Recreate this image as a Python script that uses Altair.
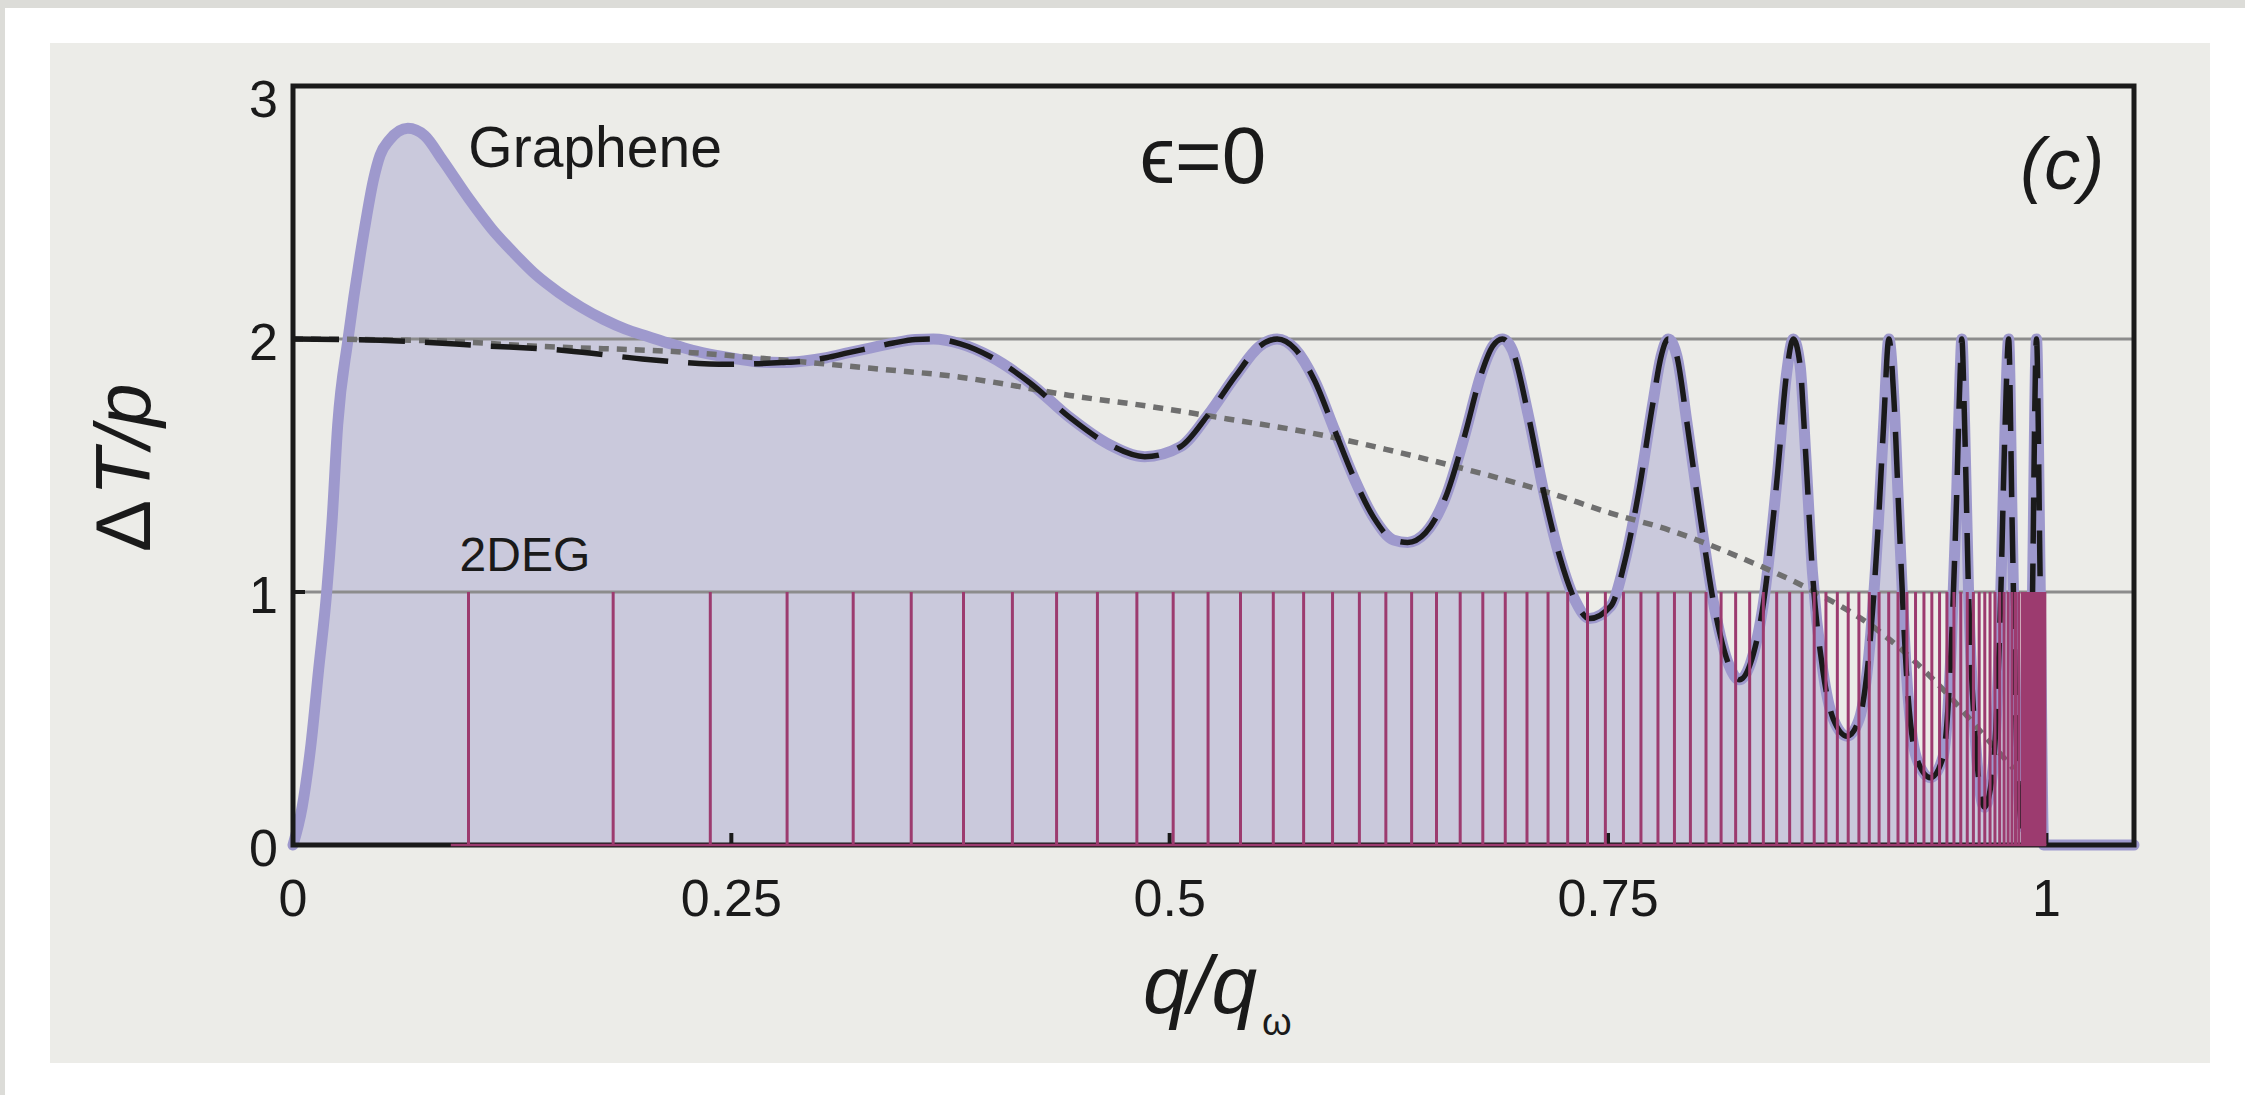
import altair as alt
import pandas as pd

# ---------------------------------------------------------------- data
# Graphene transmission ΔT/p versus q/q_ω (thick lavender curve, shaded below)
GRAPHENE = [
    (0.0, 0.0), (0.0052, 0.149), (0.0103, 0.401), (0.0146, 0.692), (0.0192, 0.998),
    (0.0222, 1.273), (0.0255, 1.661), (0.0314, 2.0), (0.0408, 2.436), (0.0459, 2.63),
    (0.0497, 2.727), (0.0548, 2.785), (0.0655, 2.833), (0.0751, 2.804), (0.0853, 2.707),
    (0.1006, 2.552), (0.1133, 2.436), (0.1261, 2.339), (0.1388, 2.252), (0.1515, 2.184),
    (0.1643, 2.126), (0.177, 2.078), (0.1897, 2.039), (0.2024, 2.01), (0.2152, 1.981),
    (0.2279, 1.955), (0.2406, 1.936), (0.2533, 1.921), (0.2661, 1.909), (0.2787, 1.907),
    (0.2915, 1.913), (0.3042, 1.926), (0.3169, 1.946), (0.3297, 1.965), (0.3424, 1.984),
    (0.3551, 1.998), (0.3653, 2.0), (0.3806, 1.981), (0.3979, 1.93), (0.4204, 1.826),
    (0.443, 1.69), (0.4655, 1.583), (0.4858, 1.535), (0.5061, 1.574), (0.5219, 1.7),
    (0.5377, 1.855), (0.5512, 1.971), (0.5613, 2.0), (0.5715, 1.961), (0.5827, 1.835),
    (0.594, 1.641), (0.6053, 1.448), (0.6165, 1.293), (0.6278, 1.205), (0.6357, 1.196),
    (0.6459, 1.234), (0.6571, 1.37), (0.6684, 1.622), (0.6774, 1.855), (0.6842, 1.971),
    (0.6898, 2.0), (0.6955, 1.955), (0.7045, 1.7), (0.7135, 1.39), (0.7225, 1.138),
    (0.7315, 0.963), (0.7394, 0.895), (0.7516, 0.944), (0.7595, 1.118), (0.7674, 1.39),
    (0.7754, 1.738), (0.7803, 1.932), (0.7843, 2.0), (0.7893, 1.932), (0.7952, 1.661),
    (0.8031, 1.273), (0.8111, 0.924), (0.819, 0.711), (0.8249, 0.653), (0.8309, 0.711),
    (0.8388, 0.963), (0.8467, 1.467), (0.8517, 1.855), (0.8557, 2.0), (0.8596, 1.893),
    (0.8626, 1.564), (0.8666, 1.079), (0.8725, 0.692), (0.8785, 0.498), (0.8864, 0.43),
    (0.8933, 0.498), (0.8993, 0.789), (0.9042, 1.273), (0.9072, 1.661), (0.9102, 2.0),
    (0.9131, 1.758), (0.9161, 1.273), (0.9201, 0.692), (0.926, 0.343), (0.9339, 0.266),
    (0.9409, 0.343), (0.9458, 0.789), (0.9488, 1.37), (0.9508, 1.855), (0.9518, 2.0),
    (0.9534, 1.661), (0.9557, 0.983), (0.9597, 0.401), (0.9647, 0.149), (0.9696, 0.304),
    (0.9736, 0.886), (0.9765, 1.661), (0.9785, 2.0), (0.9805, 1.273), (0.9835, 0.304),
    (0.9864, 0.072), (0.9914, 0.692), (0.9944, 2.0), (0.9964, 1.079), (0.9985, 0.0),
    (1.0, 0.0), (1.05, 0.0),
]

# Asymptotic result (black dashed): low-q branch, then it follows the graphene curve
ASYMPTOTIC_LOW = [
    (0.0, 2.0), (0.0497, 1.995), (0.1095, 1.973), (0.1561, 1.954),
    (0.2024, 1.919), (0.2482, 1.9),
]
ASYMPTOTIC_JOIN = 0.2787

# Envelope of the oscillation minima (grey dotted)
ENVELOPE = [
    (0.0, 2.0), (0.0751, 1.994), (0.1413, 1.971), (0.2279, 1.946), (0.2787, 1.917),
    (0.3297, 1.884), (0.3806, 1.849), (0.3979, 1.831), (0.443, 1.777), (0.4881, 1.734),
    (0.5331, 1.684), (0.5782, 1.632), (0.6233, 1.564), (0.6684, 1.486), (0.7135, 1.399),
    (0.7514, 1.312), (0.7853, 1.244), (0.8249, 1.138), (0.8645, 1.012), (0.9042, 0.847),
    (0.9438, 0.595), (0.9636, 0.44), (0.9815, 0.3),
]

# 2DEG resonance positions (unit-height peaks) and the unresolved band near q = q_ω
DEG_PEAKS = [
    0.1001, 0.1826, 0.238, 0.2818, 0.3195, 0.3526, 0.3824, 0.4103, 0.4355, 0.4588,
    0.4813, 0.502, 0.5219, 0.5404, 0.5591, 0.5764, 0.5929, 0.6082, 0.6233, 0.638,
    0.6522, 0.6657, 0.6786, 0.6914, 0.7038, 0.7158, 0.727, 0.7383, 0.7485, 0.7588,
    0.7688, 0.7785, 0.7879, 0.797, 0.8059, 0.8145, 0.8228, 0.8308, 0.8386, 0.8462,
    0.8536, 0.8607, 0.8676, 0.8743, 0.8808, 0.887, 0.8931, 0.899, 0.9046, 0.9101,
    0.9154, 0.9205, 0.9254, 0.9302, 0.9347, 0.9391, 0.9433, 0.9473, 0.9512, 0.9549,
    0.9584, 0.9617, 0.9649, 0.9679, 0.9707, 0.9734, 0.9759, 0.9782, 0.9804, 0.9824,
    0.9843,
]
DEG_BAND = (0.9855, 1.0)
DEG_BASE = (0.09, 1.0)

GRID_Y = [1, 2]
X_TICKS = [0, 0.25, 0.5, 0.75, 1]
X_INNER_TICKS = [0.25, 0.5, 0.75, 1]
Y_TICKS = [0, 1, 2]
Y_TOP_LABEL = 3
Y_INNER_TICKS = [1, 2]

TEXTS = {
    "graphene": "Graphene",
    "deg": "2DEG",
    "eps": "ϵ=0",
    "panel": "(c)",
    "ytitle_a": "Δ",
    "ytitle_b": "T/p",
    "xtitle": "q/q",
    "xsub": "ω",
}

# ---------------------------------------------------------------- style
W, H = 1841, 759
FONT = "Liberation Sans"
INK = "#1a1a1a"
PANEL = "#ecece8"
SHADE = "#cac9dc"
LAVENDER = "#9e99cd"
MAGENTA = "#9c3b6f"
DOTTED = "#6f6f6f"
GRID = "#8c8c8c"

xs = alt.Scale(domain=[0, 1.05], nice=False, zero=False)
ys = alt.Scale(domain=[0, 3], nice=False, zero=False)

graphene_df = pd.DataFrame(GRAPHENE, columns=["q", "T"])
asym_df = pd.concat(
    [pd.DataFrame(ASYMPTOTIC_LOW, columns=["q", "T"]),
     graphene_df[(graphene_df.q >= ASYMPTOTIC_JOIN) & (graphene_df.q <= 1.0)]],
    ignore_index=True,
)
env_df = pd.DataFrame(ENVELOPE, columns=["q", "T"])
peaks_df = pd.DataFrame({"q": DEG_PEAKS})
one = pd.DataFrame({"k": [0]})


def qx(field="q"):
    return alt.X(f"{field}:Q", scale=xs, axis=None)


def ty(field="T"):
    return alt.Y(f"{field}:Q", scale=ys, axis=None)


def dx(v):
    return alt.datum(v, scale=xs, axis=None)


def dy_(v):
    return alt.datum(v, scale=ys, axis=None)


# page / panel backdrop
backdrop = alt.layer(
    alt.Chart(one).mark_rect(fill=PANEL).encode(
        x=alt.value(-243), x2=alt.value(1917), y=alt.value(-43), y2=alt.value(977)),
    alt.Chart(one).mark_rect(fill="#dcdcd8").encode(
        x=alt.value(-293), x2=alt.value(1952), y=alt.value(-86), y2=alt.value(-78)),
    alt.Chart(one).mark_rect(fill="#dcdcd8").encode(
        x=alt.value(-293), x2=alt.value(-288), y=alt.value(-86), y2=alt.value(1009)),
)

shade = alt.Chart(graphene_df).mark_area(color=SHADE, interpolate="monotone").encode(
    x=qx(), y=ty())

grid = alt.Chart(pd.DataFrame({"g": GRID_Y})).mark_rule(color=GRID, strokeWidth=3).encode(
    y=ty("g"), x=alt.value(0), x2=alt.value(W))

graphene_line = alt.Chart(graphene_df).mark_line(
    color=LAVENDER, strokeWidth=11, interpolate="monotone", strokeCap="round").encode(
    x=qx(), y=ty())

envelope = alt.Chart(env_df).mark_line(
    color=DOTTED, strokeWidth=5.5, strokeDash=[10, 8], interpolate="monotone").encode(
    x=qx(), y=ty())

asymptotic = alt.Chart(asym_df).mark_line(
    color=INK, strokeWidth=5.5, strokeDash=[46, 20], interpolate="monotone").encode(
    x=qx(), y=ty())

frame = alt.Chart(one).mark_rect(filled=False, stroke=INK, strokeWidth=5).encode(
    x=alt.value(0), x2=alt.value(W), y=alt.value(0), y2=alt.value(H))

x_ticks = alt.Chart(pd.DataFrame({"t": X_INNER_TICKS})).mark_rule(color=INK, strokeWidth=4).encode(
    x=qx("t"), y=alt.value(H), y2=alt.value(H - 12))
y_ticks = alt.Chart(pd.DataFrame({"t": Y_INNER_TICKS})).mark_rule(color=INK, strokeWidth=4).encode(
    y=ty("t"), x=alt.value(0), x2=alt.value(12))

# tick labels
x_labels = alt.Chart(pd.DataFrame({"t": X_TICKS})).mark_text(
    font=FONT, fontSize=52, color=INK, align="center", baseline="top", dy=30).encode(
    x=qx("t"), y=alt.value(H), text=alt.Text("t:Q", format="~g"))
y_labels = alt.Chart(pd.DataFrame({"t": Y_TICKS})).mark_text(
    font=FONT, fontSize=52, color=INK, align="right", baseline="middle", dy=5).encode(
    y=ty("t"), x=alt.value(-15), text=alt.Text("t:Q", format="~g"))

deg_base = alt.Chart(one).mark_rule(color=MAGENTA, strokeWidth=2.5).encode(
    x=dx(DEG_BASE[0]), x2=alt.datum(DEG_BASE[1]), y=dy_(0))
deg_peaks = alt.Chart(peaks_df).mark_rule(color=MAGENTA, strokeWidth=3).encode(
    x=qx(), y=dy_(0), y2=alt.datum(1))
deg_band = alt.Chart(one).mark_rect(color=MAGENTA).encode(
    x=dx(DEG_BAND[0]), x2=alt.datum(DEG_BAND[1]), y=dy_(0), y2=alt.datum(1))


def label(text, x, y, size, **kw):
    return alt.Chart(one).mark_text(
        text=text, font=FONT, fontSize=size, color=INK, **kw).encode(x=x, y=y)


texts = alt.layer(
    label(TEXTS["graphene"], dx(0.1), dy_(2.678), 57, align="left", baseline="alphabetic"),
    label(TEXTS["deg"], dx(0.095), dy_(1.082), 48, align="left", baseline="alphabetic"),
    label(TEXTS["eps"], dx(0.519), dy_(2.617), 80, align="center", baseline="alphabetic"),
    label(TEXTS["panel"], dx(1.033), dy_(2.593), 72, align="right", baseline="alphabetic",
          fontStyle="italic"),
    label(str(Y_TOP_LABEL), alt.value(-15), dy_(Y_TOP_LABEL), 52,
          align="right", baseline="middle", dy=15),
    label(TEXTS["ytitle_a"], alt.value(-143), alt.value(414), 78,
          align="right", baseline="alphabetic", angle=270),
    label(TEXTS["ytitle_b"], alt.value(-143), alt.value(410), 78,
          align="left", baseline="alphabetic", angle=270, fontStyle="italic"),
    label(TEXTS["xtitle"], alt.value(850), alt.value(927), 82,
          align="left", baseline="alphabetic", fontStyle="italic"),
    label(TEXTS["xsub"], alt.value(969), alt.value(949), 38,
          align="left", baseline="alphabetic"),
)

chart = alt.layer(
    backdrop, shade, grid, graphene_line, envelope, asymptotic,
    frame, x_ticks, y_ticks, deg_base, deg_peaks, deg_band,
    x_labels, y_labels, texts,
).properties(
    width=W, height=H,
    autosize=alt.AutoSizeParams(type="none"),
    padding={"left": 293, "top": 86, "right": 111, "bottom": 250},
    background="#ffffff",
).configure_view(stroke=None)

chart.save("out.html", embed_options={"renderer": "svg", "actions": False})
